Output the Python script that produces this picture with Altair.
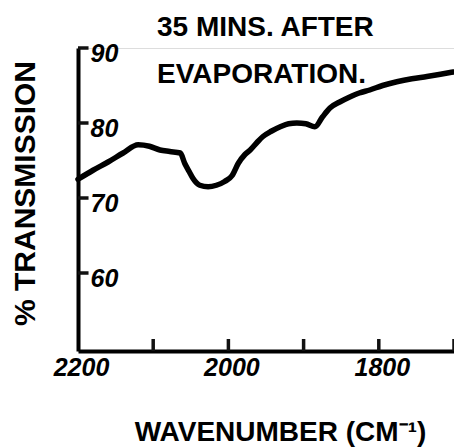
import altair as alt
import pandas as pd

# Curve (wavenumber cm^-1, % transmission)
wavenumber = [2200, 2180, 2160, 2140, 2120, 2105, 2091, 2078, 2064, 2058, 2052, 2047,
              2038, 2027, 2016, 2005, 1995, 1987, 1978, 1971, 1962, 1954, 1943, 1931,
              1920, 1909, 1897, 1885, 1875, 1865, 1852, 1840, 1826, 1812, 1795, 1776,
              1756, 1736, 1718, 1701]
transmission = [72.5, 73.7, 74.8, 76.0, 77.1, 76.9, 76.4, 76.2, 76.0, 74.6, 73.5, 72.6,
                71.7, 71.5, 71.7, 72.2, 73.0, 74.6, 75.8, 76.4, 77.4, 78.2, 78.9, 79.5,
                79.9, 80.0, 79.9, 79.5, 80.8, 82.0, 82.8, 83.4, 84.0, 84.4, 85.0, 85.5,
                85.9, 86.2, 86.5, 86.8]

x_tick_values = [2100, 2000, 1900, 1800, 1700]
x_label_values = [2200, 2000, 1800]
y_tick_values = [60, 70, 80, 90]

title_lines = ["35 MINS. AFTER", "EVAPORATION."]
x_title = "WAVENUMBER (CM\u207b\u00b9)"
y_title = "% TRANSMISSION"

FONT = "Liberation Sans"

curve = pd.DataFrame({"wn": wavenumber, "t": transmission})
xticks = pd.DataFrame({"wn": x_tick_values})
yticks = pd.DataFrame({"t": y_tick_values})

xscale = alt.Scale(domain=[2200, 1700], nice=False, zero=False)
yscale = alt.Scale(domain=[49.6, 90], nice=False, zero=False)

xaxis = alt.Axis(
    title=x_title, values=x_label_values, ticks=False, grid=False, format="d",
    domainColor="black", domainWidth=4, labelFlush=False,
    labelFont=FONT, labelFontSize=25, labelFontStyle="italic", labelFontWeight="bold",
    labelColor="black", labelPadding=4, labelOffset=3,
    titleFont=FONT, titleFontSize=28, titleFontWeight="bold", titleColor="black",
    titleX=202, titleY=89, titleBaseline="alphabetic",
)
yaxis = alt.Axis(
    title=y_title, values=y_tick_values, ticks=False, grid=False, format="d",
    domainColor="black", domainWidth=4,
    labelFont=FONT, labelFontSize=25, labelFontStyle="italic", labelFontWeight="bold",
    labelColor="black", labelAlign="left", labelBaseline="middle",
    labelPadding=-12, labelOffset=5,
    titleFont=FONT, titleFontSize=30, titleFontWeight="bold", titleColor="black",
    titleX=-53, titleY=145, titleAngle=270, titleBaseline="middle", titleAlign="center",
)

line = alt.Chart(curve).mark_line(color="black", strokeWidth=5.5, interpolate="monotone",
                                  strokeCap="round", strokeJoin="round").encode(
    x=alt.X("wn:Q", scale=xscale, axis=xaxis),
    y=alt.Y("t:Q", scale=yscale, axis=yaxis),
)

# inward-pointing tick marks
xt = alt.Chart(xticks).mark_rule(color="#111111", strokeWidth=3.5).encode(
    x=alt.X("wn:Q"),
    y=alt.YDatum(49.6),
    y2=alt.Y2Datum(51.2),
)
yt = alt.Chart(yticks).mark_rule(color="#111111", strokeWidth=3.5).encode(
    y=alt.Y("t:Q"),
    x=alt.XDatum(2200),
    x2=alt.X2Datum(2186),
)

chart = alt.layer(line, xt, yt).properties(
    width=376, height=303,
    autosize=alt.AutoSizeParams(type="none"),
    padding={"left": 78, "top": 48, "right": 0, "bottom": 96},
    title=alt.Title(text=title_lines, anchor="start", frame="group", dx=79, dy=48,
                    offset=0, baseline="top", lineHeight=47,
                    font=FONT, fontSize=28, fontWeight="bold", color="black"),
).configure_view(strokeWidth=0).configure(background="white")

chart.save("out.html", embed_options={"renderer": "svg", "actions": False})
